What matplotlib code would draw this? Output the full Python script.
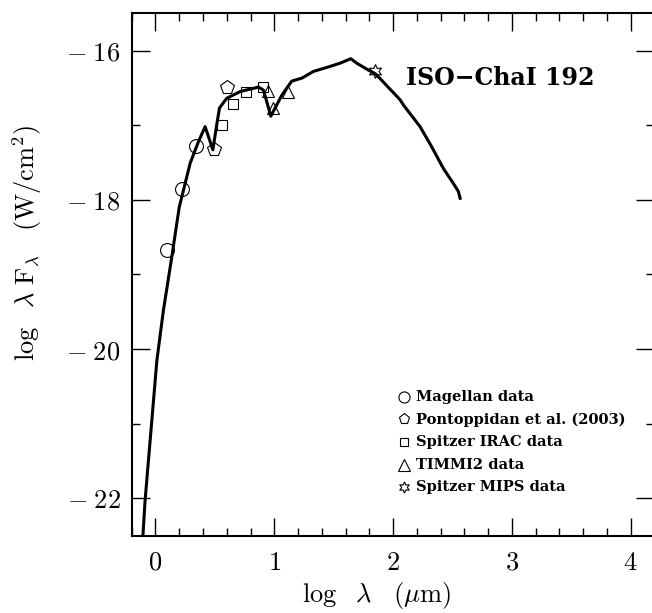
import matplotlib
matplotlib.use("Agg")
import matplotlib.pyplot as plt
from matplotlib.ticker import MultipleLocator, FuncFormatter

plt.rcParams['mathtext.fontset'] = 'cm'

# model SED curve (log lambda [um], log lambda F_lambda [W/cm^2])
model_x = [-0.106, -0.087, 0.012, 0.067, 0.138, 0.200, 0.292, 0.362, 0.418,
           0.483, 0.517, 0.539, 0.600, 0.713, 0.867, 0.909, 0.971, 1.063,
           1.147, 1.232, 1.330, 1.456, 1.554, 1.644, 1.694, 1.779, 1.848,
           1.863, 2.059, 2.087, 2.227, 2.325, 2.423, 2.507, 2.550, 2.564]
model_y = [-22.51, -22.02, -20.15, -19.48, -18.76, -18.10, -17.51, -17.22, -17.02,
           -17.33, -16.98, -16.77, -16.64, -16.55, -16.49, -16.53, -16.88, -16.60,
           -16.41, -16.37, -16.28, -16.22, -16.17, -16.11, -16.17, -16.25, -16.31,
           -16.33, -16.66, -16.73, -17.02, -17.29, -17.58, -17.78, -17.89, -17.98]

# photometry
magellan_x = [0.096, 0.222, 0.340]
magellan_y = [-18.67, -17.85, -17.28]
pont_x = [0.494, 0.600]
pont_y = [-17.32, -16.49]
irac_x = [0.556, 0.653, 0.763, 0.903]
irac_y = [-17.00, -16.72, -16.56, -16.49]
timmi_x = [0.951, 0.993, 1.114]
timmi_y = [-16.54, -16.77, -16.55]
mips_x = [1.850]
mips_y = [-16.27]

legend_labels = ["Magellan data", "Pontoppidan et al. (2003)", "Spitzer IRAC data",
                 "TIMMI2 data", "Spitzer MIPS data"]
markers = ['o', 'p', 's', '^', (6, 1, 0)]
sizes = [10, 10, 7, 9, 10]

fig = plt.figure(figsize=(6.52, 6.13), dpi=100)
ax = fig.add_axes([0.202, 0.1261, 0.8018, 0.8524])

ax.plot(model_x, model_y, color='black', lw=2.2, zorder=2)

groups = [(magellan_x, magellan_y), (pont_x, pont_y), (irac_x, irac_y),
          (timmi_x, timmi_y), (mips_x, mips_y)]
for (gx, gy), m, s in zip(groups, markers, sizes):
    ax.plot(gx, gy, ls='none', marker=m, ms=s, mfc='none', mec='black', mew=0.8, zorder=3)

# legend drawn by hand
ly0 = -20.64
for i, (lab, m) in enumerate(zip(legend_labels, markers)):
    yy = ly0 - i * 0.303
    ax.plot([2.09], [yy], ls='none', marker=m, ms=8 if m != 's' else 6,
            mfc='none', mec='black', mew=0.8)
    ax.text(2.19, yy, lab, fontsize=10.5, family='DejaVu Serif', fontweight='bold',
            va='center', ha='left')

ax.text(2.11, -16.37, "ISO\u2212ChaI 192", fontsize=17, family='DejaVu Serif',
        fontweight='bold', va='center', ha='left')

ax.set_xlim(-0.2, 4.2)
ax.set_ylim(-22.5, -15.5)
ax.xaxis.set_major_locator(MultipleLocator(1))
ax.xaxis.set_minor_locator(MultipleLocator(0.2))
ax.yaxis.set_major_locator(MultipleLocator(2))
ax.yaxis.set_minor_locator(MultipleLocator(1))
ax.xaxis.set_major_formatter(FuncFormatter(lambda v, p: r'$%d$' % round(v)))
ax.yaxis.set_major_formatter(FuncFormatter(lambda v, p: r'$-\;%d$' % round(-v)))

ax.tick_params(which='both', direction='in', top=True, right=True, width=1, labelsize=19)
ax.tick_params(which='major', length=13)
ax.tick_params(which='minor', length=6)
ax.tick_params(axis='x', pad=10)
ax.tick_params(axis='y', pad=8)
for sp in ax.spines.values():
    sp.set_linewidth(1.5)

ax.set_xlabel(r'$\log\ \ \lambda\ \ \ (\mu{\rm m})$', fontsize=19)
ax.set_ylabel(r'$\log\ \ \lambda\ {\rm F}_\lambda\ \ \ ({\rm W/cm}^2)$', fontsize=19)
ax.xaxis.set_label_coords(0.468, -0.085)
ax.yaxis.set_label_coords(-0.168, 0.56)

fig.savefig("out.png", dpi=100)
